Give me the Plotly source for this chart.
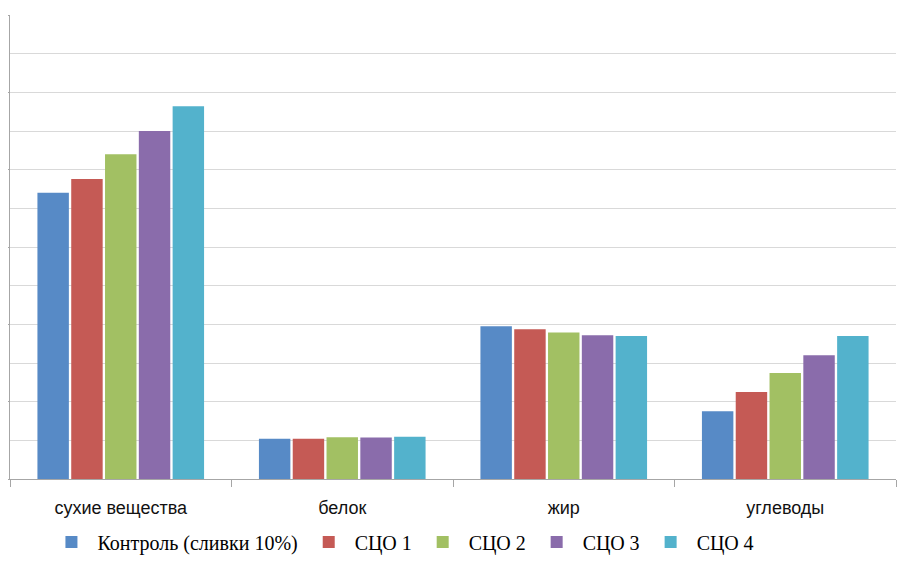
import plotly.graph_objects as go

categories = ["сухие вещества", "белок", "жир", "углеводы"]
series_names = ["Контроль (сливки 10%)", "СЦО 1", "СЦО 2", "СЦО 3", "СЦО 4"]
control = [18.5, 2.6, 9.88, 4.38]
sco1 = [19.4, 2.6, 9.68, 5.63]
sco2 = [21.0, 2.7, 9.48, 6.85]
sco3 = [22.5, 2.68, 9.3, 8.0]
sco4 = [24.1, 2.73, 9.25, 9.25]
series_values = [control, sco1, sco2, sco3, sco4]
colors = ["#578AC6", "#C55A55", "#A2C063", "#8A6CAB", "#53B2CC"]

fig = go.Figure()
for name, vals, col in zip(series_names, series_values, colors):
    fig.add_trace(go.Bar(x=categories, y=vals, name=name,
                         marker=dict(color=col, line=dict(width=0))))

fig.update_layout(
    width=915, height=553,
    margin=dict(l=2, r=27, t=7, b=82, autoexpand=False),
    paper_bgcolor="white", plot_bgcolor="white",
    barmode="group", bargap=0.237, bargroupgap=0.07,
    showlegend=True,
    legend=dict(orientation="h", x=0.04, xanchor="left", y=-0.136, yanchor="middle",
                font=dict(family="Liberation Serif", size=20, color="#000000"),
                itemwidth=42, bgcolor="rgba(0,0,0,0)"),
    xaxis=dict(showline=True, linecolor="#A6A6A6", linewidth=1, automargin=False,
               ticks="outside", tickson="boundaries", ticklen=7, tickcolor="#A6A6A6",
               ticklabelstandoff=12,
               tickfont=dict(family="Liberation Sans", size=18, color="#111111"),
               showgrid=False),
    yaxis=dict(range=[0, 30], dtick=5, showline=True, linecolor="#A6A6A6", linewidth=1,
               automargin=False,
               ticks="outside", ticklen=4, tickcolor="#A6A6A6",
               showticklabels=False, showgrid=True, gridcolor="#D9D9D9", gridwidth=1,
               minor=dict(dtick=2.5, showgrid=True, gridcolor="#D9D9D9", gridwidth=1),
               zeroline=False),
)

fig.write_html("out.html")
